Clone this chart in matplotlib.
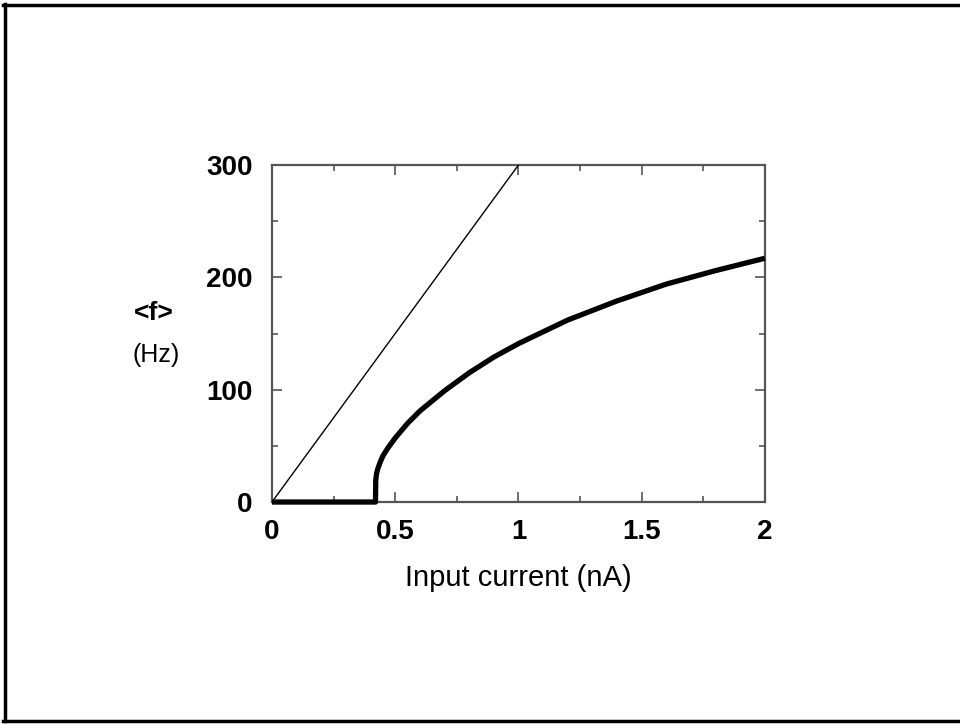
import matplotlib
matplotlib.use("Agg")
import matplotlib.pyplot as plt
from matplotlib.lines import Line2D
from matplotlib.ticker import MultipleLocator

# thin line: linear reference (0 -> 300 Hz at 1 nA)
lin_current = [0.0, 1.0]
lin_rate = [0.0, 300.0]

# thick line: mean firing rate
cur = [0.0, 0.42, 0.421, 0.423, 0.425, 0.43, 0.44, 0.45, 0.47, 0.5, 0.55,
       0.6, 0.7, 0.8, 0.9, 1.0, 1.2, 1.4, 1.6, 1.8, 2.0]
rate = [0, 0, 19, 23, 26, 30, 36, 41, 48, 57, 70,
        81, 99, 115, 129, 141, 162, 179, 194, 206, 217]

xticks = [0, 0.5, 1, 1.5, 2]
xticklabels = ["0", "0.5", "1", "1.5", "2"]
yticks = [0, 100, 200, 300]

plt.rcParams["font.family"] = ["Liberation Sans", "DejaVu Sans"]

fig = plt.figure(figsize=(9.6, 7.24), dpi=100)
ax = fig.add_axes([0.2833, 0.3066, 0.5135, 0.4655])

ax.plot(lin_current, lin_rate, color="black", lw=1.0, zorder=3)
ax.plot(cur, rate, color="black", lw=3.8, solid_capstyle="butt",
        clip_on=False, zorder=4)

ax.set_xlim(0, 2)
ax.set_ylim(0, 300)
ax.set_xticks(xticks)
ax.set_xticklabels(xticklabels)
ax.set_yticks(yticks)
ax.xaxis.set_minor_locator(MultipleLocator(0.25))
ax.yaxis.set_minor_locator(MultipleLocator(50))
ax.tick_params(which="both", direction="in", top=True, right=True,
               color="#555555", width=1.2)
ax.tick_params(which="major", length=7, labelsize=20)
ax.tick_params(axis="x", which="major", pad=12)
ax.tick_params(axis="y", which="major", pad=14)
ax.tick_params(which="minor", length=4)
for lbl in ax.get_xticklabels() + ax.get_yticklabels():
    lbl.set_fontweight("bold")
for sp in ax.spines.values():
    sp.set_color("#555555")
    sp.set_linewidth(1.6)

ax.set_xlabel("Input current (nA)", fontsize=21, labelpad=14)
fig.text(0.160, 0.567, "<f>", ha="center", va="center", fontsize=19, fontweight="bold")
fig.text(0.163, 0.509, "(Hz)", ha="center", va="center", fontsize=18)

# page frame (left, top, bottom edges)
fig.add_artist(Line2D([0.0047, 0.0047], [0.004, 0.9945], transform=fig.transFigure,
                      color="black", lw=2.5))
fig.add_artist(Line2D([0.0035, 1.0], [0.9935, 0.9935], transform=fig.transFigure,
                      color="black", lw=2.5))
fig.add_artist(Line2D([0.0035, 1.0], [0.004, 0.004], transform=fig.transFigure,
                      color="black", lw=2.5))

fig.savefig("out.png", dpi=100)
